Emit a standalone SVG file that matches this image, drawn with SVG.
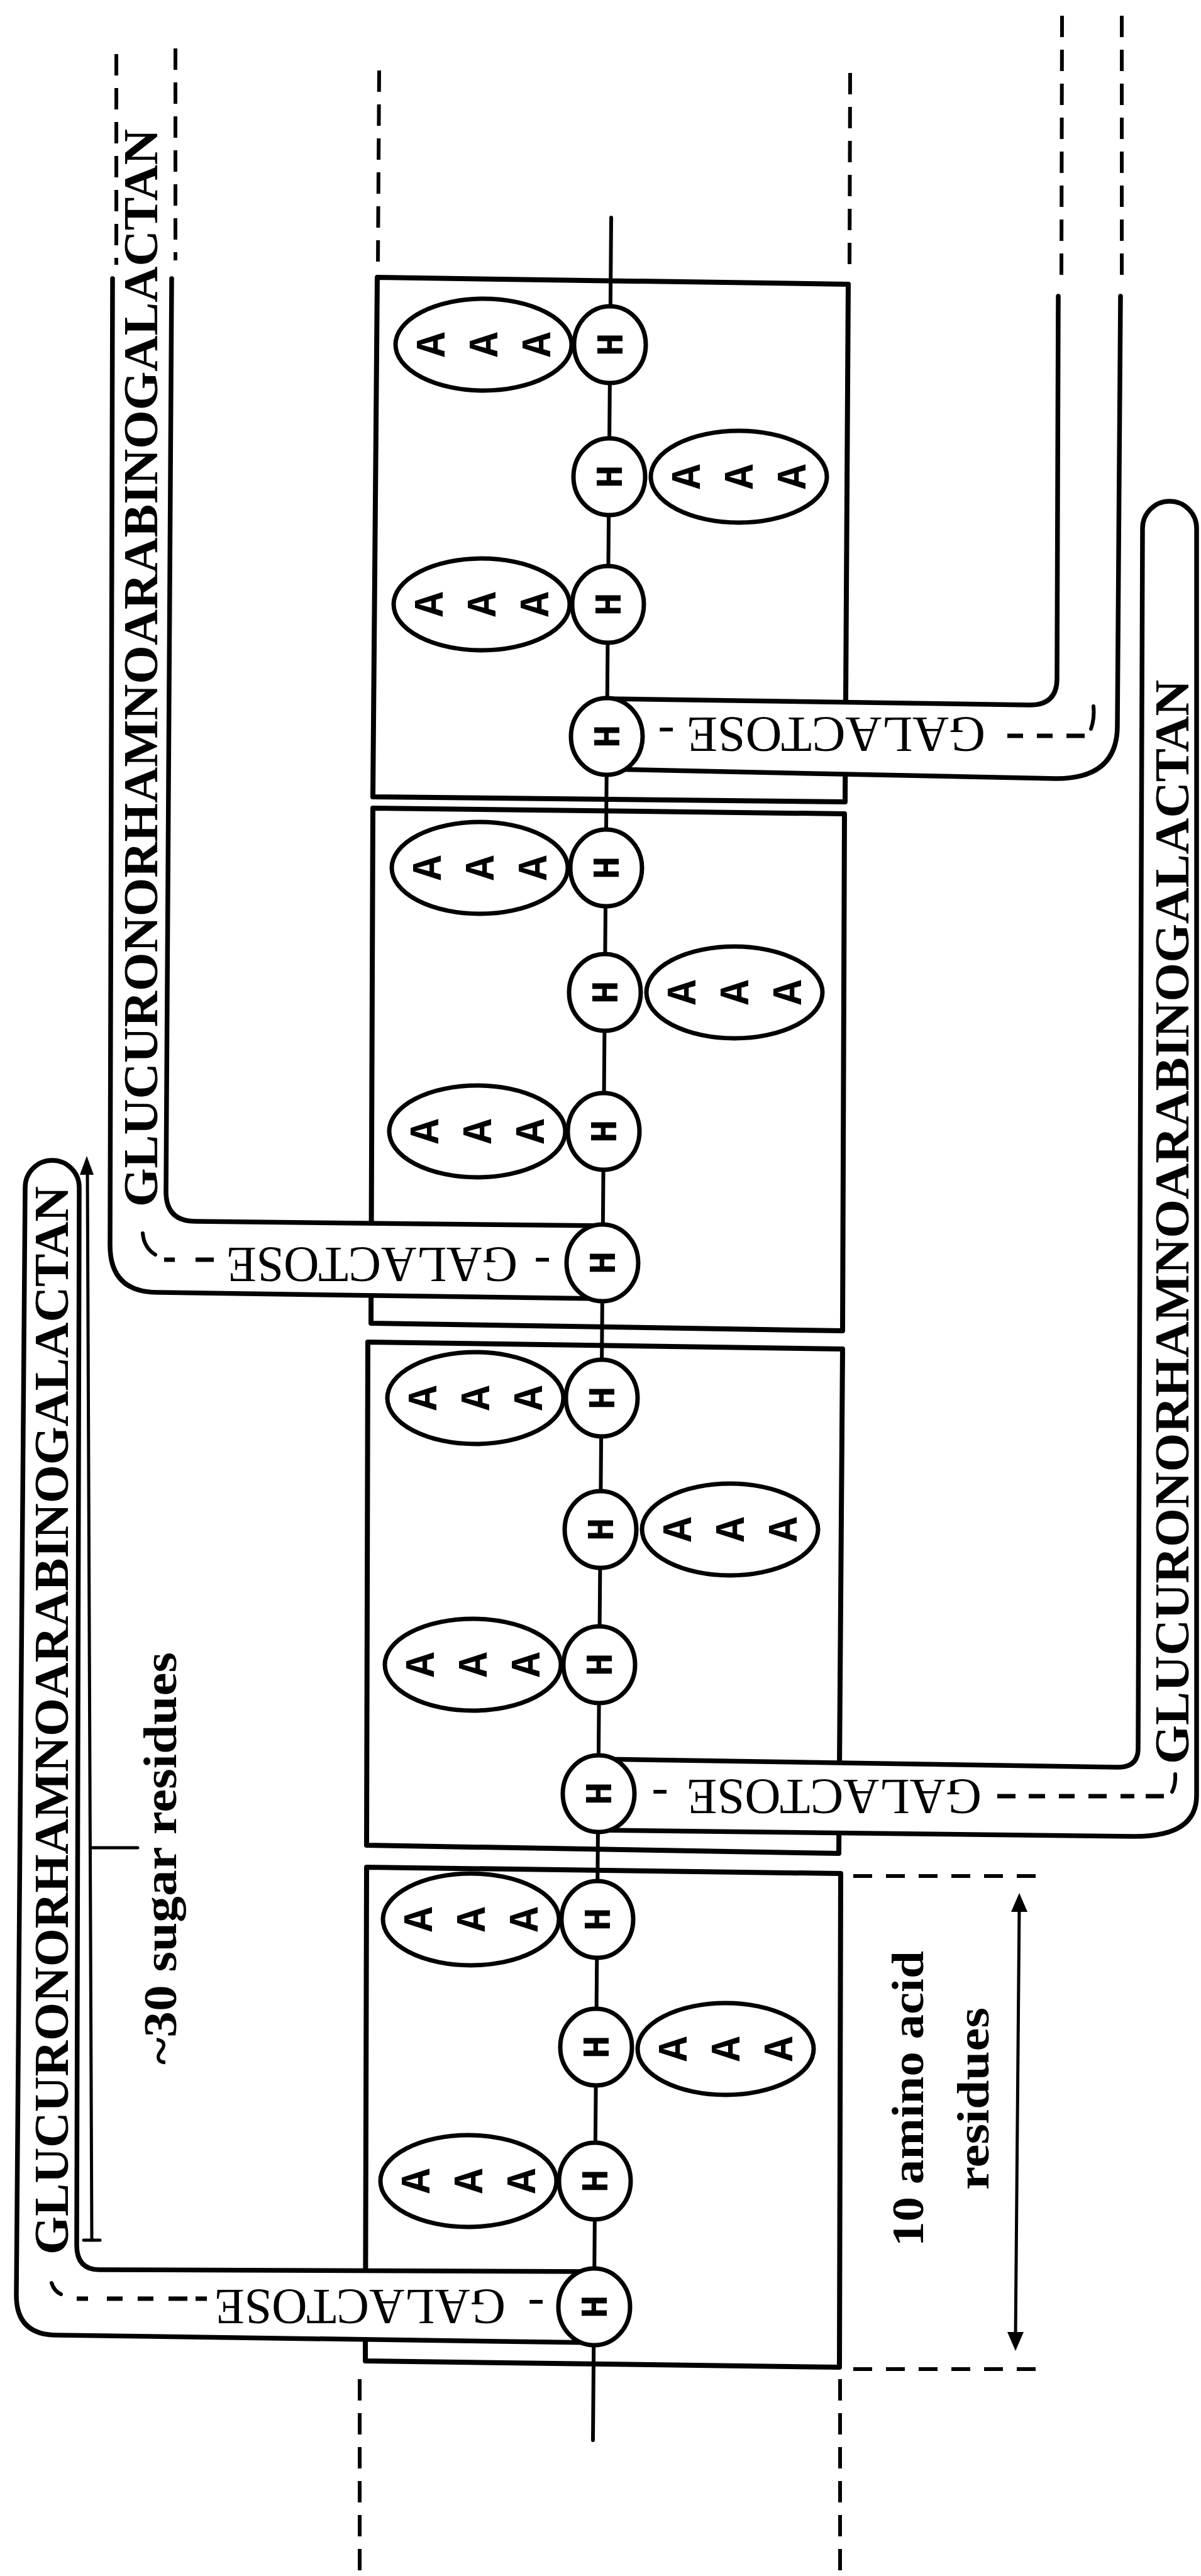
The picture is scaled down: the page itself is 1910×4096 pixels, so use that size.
<svg xmlns="http://www.w3.org/2000/svg" width="1910" height="4096" viewBox="0 0 1910 4096">
  <defs>
    <style>
      .box { fill: none; stroke: #000; stroke-width: 8; stroke-linejoin: round; }
      .ln { fill: none; stroke: #000; stroke-width: 7.5; stroke-linecap: round; stroke-linejoin: round; }
      .thin { fill: none; stroke: #000; stroke-width: 5; stroke-linecap: round; }
      .fillw { fill: #fff; stroke: none; }
      .dash { fill: none; stroke: #000; stroke-width: 6; stroke-dasharray: 34 20; }
      .hdash { fill: none; stroke: #000; stroke-width: 6; stroke-dasharray: 30 22; }
      .lead { fill: none; stroke: #000; stroke-width: 7; stroke-linecap: butt; }
      .h { fill: #fff; stroke: #000; stroke-width: 7; }
      .aaa { fill: #fff; stroke: #000; stroke-width: 7; }
      .gH { font-family: "Liberation Mono", "DejaVu Sans Mono", monospace; font-weight: bold; font-size: 62px; fill: #000; }
      .gA { font-family: "Liberation Mono", "DejaVu Sans Mono", monospace; font-weight: bold; font-size: 66px; fill: #000; }
      .poly { font-family: "Liberation Serif", "DejaVu Serif", serif; font-weight: bold; font-size: 78px; fill: #000; }
      .gal { font-family: "Liberation Serif", "DejaVu Serif", serif; font-size: 80px; fill: #000; }
      .lbl { font-family: "Liberation Serif", "DejaVu Serif", serif; font-weight: bold; fill: #000; }
    </style>
  </defs>

  <rect x="0" y="0" width="1910" height="4096" fill="#fff"/>

  <!-- dashed guide lines -->
  <g id="guides">
    <path class="dash" d="M603,112 L601,421"/>
    <path class="dash" d="M1352,116 L1351,435"/>
    <path class="dash" d="M572,3783 L572,4096"/>
    <path class="dash" d="M1336,3783 L1336,4096"/>
    <path class="hdash" d="M1357,2983 L1658,2983"/>
    <path class="hdash" d="M1357,3767 L1652,3767"/>
    <!-- open chain continuations above the picture -->
    <path class="dash" d="M185,86 L185,421"/>
    <path class="dash" d="M279,77 L279,414"/>
    <path class="dash" d="M1689,25 L1688,441"/>
    <path class="dash" d="M1784,25 L1784,441"/>
  </g>

  <!-- ten-residue repeat boxes -->
  <g id="boxes">
    <path id="box-1" class="box" d="M600,441 L1349,452 L1344,1275 L593,1267 Z"/>
    <path id="box-2" class="box" d="M593,1285 L1343,1294 L1340,2116 L590,2104 Z"/>
    <path id="box-3" class="box" d="M585,2134 L1340,2145 L1334,2947 L583,2934 Z"/>
    <path id="box-4" class="box" d="M583,2969 L1337,2979 L1335,3764 L581,3754 Z"/>
  </g>

  <!-- peptide backbone and measurement lines -->
  <g id="connectors">
    <path class="ln" d="M972,346 L943,3880" style="stroke-width:6"/>
    <!-- ~30 sugar residues bracket -->
    <path class="thin" d="M139,1862 L146,3562"/>
    <path d="M138,1838 L127,1868 L149,1868 Z" fill="#000"/>
    <path class="thin" d="M133,3562 L159,3562"/>
    <path class="thin" d="M146,2938 L219,2938"/>
    <!-- 10 amino acid span arrow -->
    <path class="thin" d="M1621,3032 L1615,3716"/>
    <path d="M1621,3010 L1608,3040 L1634,3040 Z" fill="#000"/>
    <path d="M1615,3738 L1602,3708 L1628,3708 Z" fill="#000"/>
  </g>

  <!-- arabinogalactan side chains -->
  <g id="strand-1">
    <path class="fillw" d="M965,1111 L1638,1121 Q1681,1121 1681,1079 L1683,471 L1782,471 L1777,1154 Q1777,1238 1680,1238 L965,1223 Z"/>
    <path class="ln" d="M965,1111 L1638,1121 Q1681,1121 1681,1079 L1683,471"/>
    <path class="ln" d="M965,1223 L1680,1238 Q1777,1238 1777,1154 L1782,471"/>
    <text class="gal" transform="translate(1073,1141) rotate(180)">-</text>
    <text class="gal" transform="translate(1567,1141) rotate(180)" textLength="475" lengthAdjust="spacingAndGlyphs">GALACTOSE</text>
    <path class="lead" d="M1602,1170 L1627,1170 M1649,1170 L1674,1170 M1696,1170 L1725,1170"/>
    <path class="thin" style="stroke-width:6" d="M1739,1123 Q1741,1142 1735,1159"/>
  </g>

  <g id="strand-2">
    <path class="fillw" d="M958,1949 L311,1942 Q264,1942 264,1895 L273,443 L179,443 L175,1980 Q175,2055 251,2055 L958,2065 Z"/>
    <path class="ln" d="M958,1949 L311,1942 Q264,1942 264,1895 L273,443"/>
    <path class="ln" d="M958,2065 L251,2055 Q175,2055 175,1980 L179,443"/>
    <text class="poly" transform="translate(250,1919) rotate(-90)" textLength="1714" lengthAdjust="spacingAndGlyphs">GLUCURONORHAMNOARABINOGALACTAN</text>
    <text class="gal" transform="translate(876,1984) rotate(180)">-</text>
    <text class="gal" transform="translate(823,1984) rotate(180)" textLength="463" lengthAdjust="spacingAndGlyphs">GALACTOSE</text>
    <path class="lead" d="M261,2003 L278,2003 M311,2003 L340,2003"/>
    <path class="thin" style="stroke-width:6" d="M227,1961 Q229,1984 247,1995"/>
  </g>

  <g id="strand-3">
    <path class="fillw" d="M952,2797 L1778,2810 Q1810,2810 1810,2780 L1817,840 A43,43 0 0 1 1903,840 L1903,2855 Q1903,2920 1805,2920 L952,2910 Z"/>
    <path class="ln" d="M952,2797 L1778,2810 Q1810,2810 1810,2780 L1817,840 A43,43 0 0 1 1903,840 L1903,2855 Q1903,2920 1805,2920 L952,2910"/>
    <text class="poly" transform="translate(1890,2805) rotate(-90)" textLength="1724" lengthAdjust="spacingAndGlyphs">GLUCURONORHAMNOARABINOGALACTAN</text>
    <text class="gal" transform="translate(1063,2830) rotate(180)">-</text>
    <text class="gal" transform="translate(1561,2830) rotate(180)" textLength="469" lengthAdjust="spacingAndGlyphs">GALACTOSE</text>
    <path class="lead" d="M1586,2856 L1615,2856 M1636,2856 L1662,2856 M1684,2856 L1709,2856 M1731,2856 L1760,2856 M1782,2856 L1804,2856 M1822,2856 L1851,2856"/>
    <path class="thin" style="stroke-width:6" d="M1869,2821 Q1870,2838 1864,2849"/>
  </g>

  <g id="strand-4">
    <path class="fillw" d="M945,3612 L158,3609 Q122,3609 122,3570 L126,1888 A43,43 0 0 0 40,1888 L26,3650 Q26,3713 91,3713 L945,3725 Z"/>
    <path class="ln" d="M945,3612 L158,3609 Q122,3609 122,3570 L126,1888 A43,43 0 0 0 40,1888 L26,3650 Q26,3713 91,3713 L945,3725"/>
    <text class="poly" transform="translate(108,3585) rotate(-90)" textLength="1699" lengthAdjust="spacingAndGlyphs">GLUCURONORHAMNOARABINOGALACTAN</text>
    <text class="gal" transform="translate(866,3641) rotate(180)">-</text>
    <text class="gal" transform="translate(804,3641) rotate(180)" textLength="463" lengthAdjust="spacingAndGlyphs">GALACTOSE</text>
    <path class="lead" d="M122,3655 L140,3655 M170,3655 L195,3655 M219,3655 L244,3655 M268,3655 L298,3655 M311,3655 L329,3655"/>
    <path class="thin" style="stroke-width:6" d="M82,3630 Q86,3643 97,3648"/>
  </g>

  <!-- hydroxyproline residues (H) and arabinose trisaccharides (AAA) -->
  <g id="nodes">
    <!-- box 1 -->
    <g id="aaa-1-1"><ellipse class="aaa" cx="769" cy="548" rx="140" ry="73"/>
      <text class="gA" text-anchor="middle" transform="translate(707,548) rotate(-90)">A</text>
      <text class="gA" text-anchor="middle" transform="translate(791,548) rotate(-90)">A</text>
      <text class="gA" text-anchor="middle" transform="translate(875,548) rotate(-90)">A</text></g>
    <g id="h-1-1"><ellipse class="h" cx="970" cy="548" rx="57" ry="61"/><text class="gH" text-anchor="middle" transform="translate(990,548) rotate(-90)">H</text></g>
    <g id="aaa-1-2"><ellipse class="aaa" cx="1175" cy="758" rx="140" ry="73"/>
      <text class="gA" text-anchor="middle" transform="translate(1113,758) rotate(-90)">A</text>
      <text class="gA" text-anchor="middle" transform="translate(1197,758) rotate(-90)">A</text>
      <text class="gA" text-anchor="middle" transform="translate(1281,758) rotate(-90)">A</text></g>
    <g id="h-1-2"><ellipse class="h" cx="969" cy="758" rx="57" ry="61"/><text class="gH" text-anchor="middle" transform="translate(989,758) rotate(-90)">H</text></g>
    <g id="aaa-1-3"><ellipse class="aaa" cx="766" cy="961" rx="140" ry="73"/>
      <text class="gA" text-anchor="middle" transform="translate(704,961) rotate(-90)">A</text>
      <text class="gA" text-anchor="middle" transform="translate(788,961) rotate(-90)">A</text>
      <text class="gA" text-anchor="middle" transform="translate(872,961) rotate(-90)">A</text></g>
    <g id="h-1-3"><ellipse class="h" cx="967" cy="961" rx="57" ry="61"/><text class="gH" text-anchor="middle" transform="translate(987,961) rotate(-90)">H</text></g>
    <g id="h-1-4"><ellipse class="h" cx="965" cy="1171" rx="57" ry="61"/><text class="gH" text-anchor="middle" transform="translate(985,1171) rotate(-90)">H</text></g>

    <!-- box 2 -->
    <g id="aaa-2-1"><ellipse class="aaa" cx="763" cy="1380" rx="140" ry="73"/>
      <text class="gA" text-anchor="middle" transform="translate(701,1380) rotate(-90)">A</text>
      <text class="gA" text-anchor="middle" transform="translate(785,1380) rotate(-90)">A</text>
      <text class="gA" text-anchor="middle" transform="translate(869,1380) rotate(-90)">A</text></g>
    <g id="h-2-1"><ellipse class="h" cx="964" cy="1380" rx="57" ry="61"/><text class="gH" text-anchor="middle" transform="translate(984,1380) rotate(-90)">H</text></g>
    <g id="aaa-2-2"><ellipse class="aaa" cx="1168" cy="1578" rx="140" ry="73"/>
      <text class="gA" text-anchor="middle" transform="translate(1106,1578) rotate(-90)">A</text>
      <text class="gA" text-anchor="middle" transform="translate(1190,1578) rotate(-90)">A</text>
      <text class="gA" text-anchor="middle" transform="translate(1274,1578) rotate(-90)">A</text></g>
    <g id="h-2-2"><ellipse class="h" cx="962" cy="1578" rx="57" ry="61"/><text class="gH" text-anchor="middle" transform="translate(982,1578) rotate(-90)">H</text></g>
    <g id="aaa-2-3"><ellipse class="aaa" cx="759" cy="1799" rx="140" ry="73"/>
      <text class="gA" text-anchor="middle" transform="translate(697,1799) rotate(-90)">A</text>
      <text class="gA" text-anchor="middle" transform="translate(781,1799) rotate(-90)">A</text>
      <text class="gA" text-anchor="middle" transform="translate(865,1799) rotate(-90)">A</text></g>
    <g id="h-2-3"><ellipse class="h" cx="960" cy="1799" rx="57" ry="61"/><text class="gH" text-anchor="middle" transform="translate(980,1799) rotate(-90)">H</text></g>
    <g id="h-2-4"><ellipse class="h" cx="958" cy="2008" rx="57" ry="61"/><text class="gH" text-anchor="middle" transform="translate(978,2008) rotate(-90)">H</text></g>

    <!-- box 3 -->
    <g id="aaa-3-1"><ellipse class="aaa" cx="756" cy="2223" rx="140" ry="73"/>
      <text class="gA" text-anchor="middle" transform="translate(694,2223) rotate(-90)">A</text>
      <text class="gA" text-anchor="middle" transform="translate(778,2223) rotate(-90)">A</text>
      <text class="gA" text-anchor="middle" transform="translate(862,2223) rotate(-90)">A</text></g>
    <g id="h-3-1"><ellipse class="h" cx="957" cy="2223" rx="57" ry="61"/><text class="gH" text-anchor="middle" transform="translate(977,2223) rotate(-90)">H</text></g>
    <g id="aaa-3-2"><ellipse class="aaa" cx="1161" cy="2432" rx="140" ry="73"/>
      <text class="gA" text-anchor="middle" transform="translate(1099,2432) rotate(-90)">A</text>
      <text class="gA" text-anchor="middle" transform="translate(1183,2432) rotate(-90)">A</text>
      <text class="gA" text-anchor="middle" transform="translate(1267,2432) rotate(-90)">A</text></g>
    <g id="h-3-2"><ellipse class="h" cx="955" cy="2432" rx="57" ry="61"/><text class="gH" text-anchor="middle" transform="translate(975,2432) rotate(-90)">H</text></g>
    <g id="aaa-3-3"><ellipse class="aaa" cx="752" cy="2647" rx="140" ry="73"/>
      <text class="gA" text-anchor="middle" transform="translate(690,2647) rotate(-90)">A</text>
      <text class="gA" text-anchor="middle" transform="translate(774,2647) rotate(-90)">A</text>
      <text class="gA" text-anchor="middle" transform="translate(858,2647) rotate(-90)">A</text></g>
    <g id="h-3-3"><ellipse class="h" cx="953" cy="2647" rx="57" ry="61"/><text class="gH" text-anchor="middle" transform="translate(973,2647) rotate(-90)">H</text></g>
    <g id="h-3-4"><ellipse class="h" cx="952" cy="2852" rx="57" ry="61"/><text class="gH" text-anchor="middle" transform="translate(972,2852) rotate(-90)">H</text></g>

    <!-- box 4 -->
    <g id="aaa-4-1"><ellipse class="aaa" cx="749" cy="3052" rx="140" ry="73"/>
      <text class="gA" text-anchor="middle" transform="translate(687,3052) rotate(-90)">A</text>
      <text class="gA" text-anchor="middle" transform="translate(771,3052) rotate(-90)">A</text>
      <text class="gA" text-anchor="middle" transform="translate(855,3052) rotate(-90)">A</text></g>
    <g id="h-4-1"><ellipse class="h" cx="950" cy="3052" rx="57" ry="61"/><text class="gH" text-anchor="middle" transform="translate(970,3052) rotate(-90)">H</text></g>
    <g id="aaa-4-2"><ellipse class="aaa" cx="1154" cy="3258" rx="140" ry="73"/>
      <text class="gA" text-anchor="middle" transform="translate(1092,3258) rotate(-90)">A</text>
      <text class="gA" text-anchor="middle" transform="translate(1176,3258) rotate(-90)">A</text>
      <text class="gA" text-anchor="middle" transform="translate(1260,3258) rotate(-90)">A</text></g>
    <g id="h-4-2"><ellipse class="h" cx="948" cy="3255" rx="57" ry="61"/><text class="gH" text-anchor="middle" transform="translate(968,3255) rotate(-90)">H</text></g>
    <g id="aaa-4-3"><ellipse class="aaa" cx="745" cy="3468" rx="140" ry="73"/>
      <text class="gA" text-anchor="middle" transform="translate(683,3468) rotate(-90)">A</text>
      <text class="gA" text-anchor="middle" transform="translate(767,3468) rotate(-90)">A</text>
      <text class="gA" text-anchor="middle" transform="translate(851,3468) rotate(-90)">A</text></g>
    <g id="h-4-3"><ellipse class="h" cx="946" cy="3468" rx="57" ry="61"/><text class="gH" text-anchor="middle" transform="translate(966,3468) rotate(-90)">H</text></g>
    <g id="h-4-4"><ellipse class="h" cx="945" cy="3668" rx="57" ry="61"/><text class="gH" text-anchor="middle" transform="translate(965,3668) rotate(-90)">H</text></g>
  </g>

  <!-- dimension labels -->
  <g id="labels">
    <text class="lbl" font-size="74" transform="translate(280,3283) rotate(-90)" textLength="656" lengthAdjust="spacingAndGlyphs">~30 sugar residues</text>
    <text class="lbl" font-size="72" transform="translate(1468,3572) rotate(-90)" textLength="470" lengthAdjust="spacingAndGlyphs">10 amino acid</text>
    <text class="lbl" font-size="72" transform="translate(1572,3482) rotate(-90)" textLength="290" lengthAdjust="spacingAndGlyphs">residues</text>
  </g>
</svg>
